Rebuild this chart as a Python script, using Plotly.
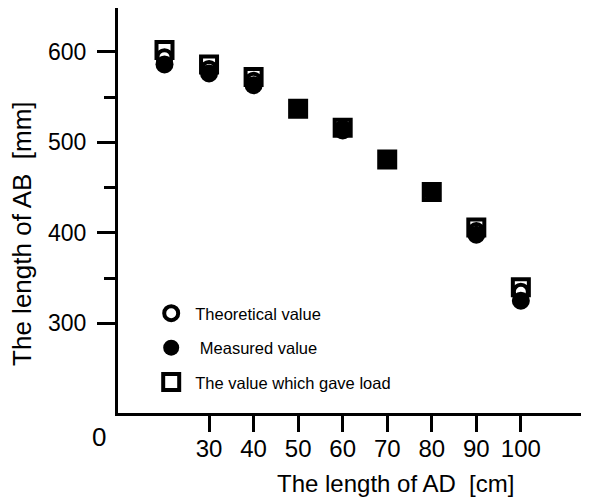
import plotly.graph_objects as go

# Data
length_ad = [20, 30, 40, 50, 60, 70, 80, 90, 100]          # cm
theoretical = [594, 581, 568, 537, 515, 481, 446, 402, 335]  # mm
measured = [586, 576, 563, 537, 513, 481, 446, 398, 325]     # mm
load_value = [602, 586, 572, 537, 516, 481, 445, 406, 340]   # mm

x_ticks = [30, 40, 50, 60, 70, 80, 90, 100]
y_ticks = [300, 400, 500, 600]
y_minor = [350, 450, 550]

FONT = "Liberation Sans, Arial, sans-serif"

fig = go.Figure()

fig.add_trace(go.Scatter(
    x=length_ad, y=load_value, mode="markers",
    name="The value which gave load", legendgroup="c", legendrank=3,
    marker=dict(symbol="square", size=16, color="white",
                line=dict(color="black", width=4)),
))
fig.add_trace(go.Scatter(
    x=length_ad, y=theoretical, mode="markers",
    name="Theoretical value", legendgroup="a", legendrank=1,
    marker=dict(symbol="circle", size=14, color="white",
                line=dict(color="black", width=4)),
))
fig.add_trace(go.Scatter(
    x=length_ad, y=measured, mode="markers",
    name="\u00a0Measured value", legendgroup="b", legendrank=2,
    marker=dict(symbol="circle", size=18, color="black",
                line=dict(color="black", width=0)),
))

# The page body adds an 8px offset, so the figure is sized/margined to compensate
fig.update_layout(
    width=581, height=499,
    margin=dict(l=110, r=0, t=0, b=94, autoexpand=False),
    paper_bgcolor="white", plot_bgcolor="white",
    font=dict(family=FONT, color="black"),
    showlegend=True,
    legend=dict(
        x=0.062, y=0.289, xanchor="left", yanchor="top",
        bgcolor="rgba(0,0,0,0)", font=dict(size=16.5, family=FONT),
        itemwidth=38, tracegroupgap=10, traceorder="grouped",
    ),
    xaxis=dict(
        range=[9.56, 115.3], tickmode="array", tickvals=x_ticks,
        ticks="outside", ticklen=16, tickwidth=3, tickcolor="black",
        showline=True, linewidth=3, linecolor="black",
        showgrid=False, zeroline=False, automargin=False,
        tickfont=dict(size=24, family=FONT), ticklabelstandoff=-4,
    ),
    yaxis=dict(
        range=[201, 648.3], tickmode="array", tickvals=y_ticks,
        ticks="outside", ticklen=18, tickwidth=3, tickcolor="black",
        minor=dict(tickmode="array", tickvals=y_minor, ticks="outside",
                   ticklen=11, tickwidth=3, tickcolor="black"),
        showline=True, linewidth=3, linecolor="black",
        showgrid=False, zeroline=False, automargin=False,
        tickfont=dict(size=23, family=FONT), ticklabelstandoff=6,
    ),
    annotations=[
        dict(text="The length of AD\u00a0\u00a0[cm]", xref="paper", yref="paper",
             x=0.589, y=-0.175, xanchor="center", yanchor="middle",
             showarrow=False, font=dict(size=24, family=FONT)),
        dict(text="The length of AB\u00a0\u00a0[mm]", xref="paper", yref="paper",
             x=-0.204, y=0.442, xanchor="center", yanchor="middle",
             textangle=-90, showarrow=False, font=dict(size=26, family=FONT)),
        dict(text="0", xref="paper", yref="paper",
             x=-0.040, y=-0.059, xanchor="center", yanchor="middle",
             showarrow=False, font=dict(size=26, family=FONT)),
    ],
)

fig.write_html("out.html")
